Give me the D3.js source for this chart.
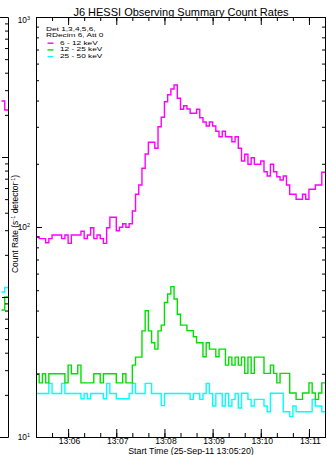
<!DOCTYPE html>
<html>
<head>
<meta charset="utf-8">
<script src="https://cdn.jsdelivr.net/npm/d3@7"></script>
<style>
  body { margin: 0; background: #fff; }
  text { font-family: "Liberation Sans", Arial, Helvetica, sans-serif; fill: #000; }
</style>
</head>
<body>
<svg id="chart" width="327" height="455"></svg>
<script>
// time range of the panel, 4 s bins
const startTime = "2011-09-25T13:05:20Z";
const endTime = "2011-09-25T13:11:20Z";
const binSeconds = 4;

// count rates (s^-1 detector^-1)
const rate6to12 = [89.9, 88.0, 88.0, 84.2, 88.0, 91.6, 91.6, 91.6, 88.0, 91.6,
  83.6, 91.6, 91.6, 91.6, 95.4, 88.0, 91.6, 99.2, 88.0, 91.6,
  88.0, 83.6, 99.2, 111.2, 111.2, 96.0, 99.7, 103.7, 99.7, 103.7,
  119.2, 143.1, 158.5, 190.3, 222.6, 253.2, 253.2, 237.0, 300.4, 333.0,
  395.1, 426.6, 454.1, 474.5, 410.1, 363.6, 378.2, 364.7, 347.9, 347.9,
  363.6, 331.5, 316.2, 302.7, 316.2, 302.7, 285.6, 269.2, 285.6, 269.2,
  269.2, 254.8, 269.2, 237.0, 206.2, 221.9, 198.9, 213.8, 198.9, 198.9,
  206.2, 183.4, 175.0, 198.9, 183.4, 173.6, 167.4, 175.0, 158.5, 143.1,
  143.1, 135.5, 135.5, 143.1, 135.5, 151.2, 151.2, 158.5, 158.5, 182.2];
const rate12to25 = [20.0, 18.1, 20.0, 18.1, 20.0, 20.0, 20.0, 20.0, 20.0, 18.1,
  22.0, 20.0, 20.0, 22.0, 18.1, 18.1, 18.1, 18.1, 20.0, 20.0,
  18.1, 20.0, 20.0, 20.0, 20.0, 18.1, 18.1, 20.0, 18.1, 18.1,
  22.0, 24.0, 24.0, 32.0, 39.9, 32.0, 28.1, 26.2, 32.0, 34.1,
  43.7, 48.0, 52.0, 45.4, 38.4, 34.1, 34.1, 32.1, 32.1, 30.0,
  28.1, 28.1, 24.1, 28.1, 26.2, 26.2, 24.1, 26.2, 26.2, 22.0,
  24.0, 22.0, 24.0, 22.0, 24.0, 20.1, 24.0, 20.1, 24.0, 24.0,
  24.0, 20.1, 20.1, 22.0, 20.1, 18.1, 20.1, 20.1, 20.1, 16.2,
  16.2, 15.1, 15.1, 16.2, 16.2, 18.1, 16.2, 15.1, 16.2, 18.1];
const rate25to50 = [16.1, 16.1, 16.1, 16.1, 18.0, 16.1, 16.1, 16.1, 18.0, 16.1,
  16.1, 16.1, 16.1, 16.1, 15.2, 16.1, 15.2, 16.1, 16.1, 16.1,
  16.1, 15.2, 18.0, 16.1, 16.1, 15.2, 15.2, 15.2, 15.2, 16.1,
  18.0, 16.1, 16.1, 16.1, 18.0, 18.0, 16.1, 16.1, 16.1, 14.1,
  16.1, 16.1, 16.1, 16.1, 16.1, 16.1, 16.1, 16.1, 15.1, 16.1,
  16.1, 15.1, 16.1, 18.0, 16.1, 14.05, 16.1, 16.1, 14.05, 16.1,
  14.05, 15.1, 16.1, 13.75, 16.15, 16.15, 15.1, 14.05, 15.1, 15.1,
  15.1, 14.05, 13.2, 16.15, 16.15, 16.15, 16.15, 13.2, 13.2, 12.5,
  14.05, 13.2, 13.2, 13.2, 13.2, 13.2, 15.1, 14.05, 14.05, 13.2];

const bandLabels = ["6 - 12 keV", "12 - 25 keV", "25 - 50 keV"];
const bandColors = ["#ff00ff", "#00e000", "#00ffff"];
const legendLines = ["Det 1,3,4,5,6,", "RDecim 6, Att 0"];
const yTickValues = [10, 100, 1000];
const yTickExponents = ["1", "2", "3"];
const xTickLabels = ["13:06", "13:07", "13:08", "13:09", "13:10", "13:11"];

// right edge of the neighbouring panel, which is cut off at the left
const prevRate6to12 = [2512, 2168];
const prevRate12to25 = [80.8, 100];
const prevRate25to50 = [108.6, 117];

const svg = d3.select("#chart");

const x = d3.scaleUtc()
  .domain([new Date(startTime), new Date(endTime)])
  .range([36, 325]);
const y = d3.scaleLog().domain([10, 1000]).range([437, 17]);

function binned(values) {
  const t0 = new Date(startTime).getTime();
  const pts = values.map((v, i) => ({ t: new Date(t0 + i * binSeconds * 1000), v: v }));
  pts.push({ t: new Date(t0 + values.length * binSeconds * 1000), v: values[values.length - 1] });
  return pts;
}

const line = d3.line()
  .x(d => x(d.t))
  .y(d => y(d.v))
  .curve(d3.curveStepAfter);

// data lines
const plot = svg.append("g");
[rate25to50, rate12to25, rate6to12].forEach((vals, k) => {
  plot.append("path")
    .attr("d", line(binned(vals)))
    .attr("fill", "none")
    .attr("stroke", bandColors[2 - k])
    .attr("stroke-width", 1.4);
});

// frame
svg.append("rect")
  .attr("x", x.range()[0] + 0.5).attr("y", y.range()[1] + 0.5)
  .attr("width", x.range()[1] - x.range()[0])
  .attr("height", y.range()[0] - y.range()[1])
  .attr("fill", "none").attr("stroke", "#000").attr("stroke-width", 1);

function ticksOnly(g) {
  g.select(".domain").remove();
  g.selectAll("text").remove();
}

// y ticks, inside on both sides
const yMinor = y.ticks();
svg.append("g").attr("transform", `translate(${x.range()[0]},0)`)
  .call(d3.axisRight(y).tickValues(yMinor).tickSize(3).tickSizeOuter(0)).call(ticksOnly);
svg.append("g").attr("transform", `translate(${x.range()[0]},0)`)
  .call(d3.axisRight(y).tickValues(yTickValues).tickSize(6).tickSizeOuter(0)).call(ticksOnly);
svg.append("g").attr("transform", `translate(${x.range()[1]},0)`)
  .call(d3.axisLeft(y).tickValues(yMinor).tickSize(3).tickSizeOuter(0)).call(ticksOnly);
svg.append("g").attr("transform", `translate(${x.range()[1]},0)`)
  .call(d3.axisLeft(y).tickValues(yTickValues).tickSize(6).tickSizeOuter(0)).call(ticksOnly);

// x ticks, inside top and bottom
const xMajor = xTickLabels.map(s => new Date(`2011-09-25T${s}:00Z`));
const xMinor = d3.utcSecond.every(20).range(new Date(startTime), new Date(endTime));
svg.append("g").attr("transform", `translate(0,${y.range()[0]})`)
  .call(d3.axisTop(x).tickValues(xMinor).tickSize(4).tickSizeOuter(0)).call(ticksOnly);
svg.append("g").attr("transform", `translate(0,${y.range()[0]})`)
  .call(d3.axisTop(x).tickValues(xMajor).tickSize(8).tickSizeOuter(0)).call(ticksOnly);
svg.append("g").attr("transform", `translate(0,${y.range()[1]})`)
  .call(d3.axisBottom(x).tickValues(xMinor).tickSize(4).tickSizeOuter(0)).call(ticksOnly);
svg.append("g").attr("transform", `translate(0,${y.range()[1]})`)
  .call(d3.axisBottom(x).tickValues(xMajor).tickSize(8).tickSizeOuter(0)).call(ticksOnly);

// x tick labels
svg.append("g").selectAll("text").data(xMajor).join("text")
  .attr("x", d => x(d) + 1.5).attr("y", 444.3)
  .attr("text-anchor", "middle").attr("font-size", 8.6)
  .text((d, i) => xTickLabels[i]);

// y tick labels: 10^n
const yl = svg.append("g").selectAll("text").data(yTickValues).join("text")
  .attr("x", 30).attr("y", (d, i) => Math.max(y(d) + 3, 23))
  .attr("text-anchor", "end").attr("font-size", 8.3);
yl.append("tspan").text("10");
yl.append("tspan").attr("font-size", 5.5).attr("dy", -3.5).text((d, i) => yTickExponents[i]);

// title and axis titles
svg.append("text").attr("x", 181).attr("y", 15.5).attr("text-anchor", "middle")
  .attr("font-size", 11).text("J6 HESSI Observing Summary Count Rates");
svg.append("text").attr("x", 191).attr("y", 454.2).attr("text-anchor", "middle")
  .attr("font-size", 8.8).text("Start Time (25-Sep-11 13:05:20)");
const yt = svg.append("text").attr("transform", "translate(18,224) rotate(-90)")
  .attr("text-anchor", "middle").attr("font-size", 8.5);
yt.append("tspan").text("Count Rate (s");
yt.append("tspan").attr("font-size", 5.5).attr("dy", -3.5).text("-1");
yt.append("tspan").attr("dy", 3.5).text(" detector");
yt.append("tspan").attr("font-size", 5.5).attr("dy", -3.5).text("-1");
yt.append("tspan").attr("dy", 3.5).text(")");

// legend (wide, short glyphs like the original)
const lg = svg.append("g");
const legendBase = [30.7, 36.7];
legendLines.forEach((s, i) => {
  lg.append("text").attr("transform", `translate(46,${legendBase[i]}) scale(1.38,1)`)
    .attr("font-size", 6).text(s);
});
bandLabels.forEach((s, i) => {
  const yy = 44.6 + i * 6.7;
  lg.append("line").attr("x1", 47.5).attr("x2", 53.5).attr("y1", yy - 1.4).attr("y2", yy - 1.4)
    .attr("stroke", bandColors[i]).attr("stroke-width", 1.4);
  lg.append("text").attr("transform", `translate(60,${yy}) scale(1.38,1)`)
    .attr("font-size", 6).text(s);
});

// neighbouring panel edge
const prevX = d3.scaleLinear().domain([0, 2]).range([1.5, 8]);
const prevY = d3.scaleLog().domain([10, 10000]).range([437, 17]);
const prevLine = d3.line().x((d, i) => prevX(i)).y(d => prevY(d)).curve(d3.curveStepAfter);
[prevRate25to50, prevRate12to25, prevRate6to12].forEach((vals, k) => {
  svg.append("path").attr("d", prevLine(vals.concat([vals[vals.length - 1]])))
    .attr("fill", "none").attr("stroke", bandColors[2 - k]).attr("stroke-width", 1.4);
});
svg.append("path")
  .attr("d", `M0,${prevY.range()[1] + 0.5}H${prevX.range()[1] + 0.5}V${prevY.range()[0] + 0.5}H0`)
  .attr("fill", "none").attr("stroke", "#000");
svg.append("g").attr("transform", `translate(${prevX.range()[1]},0)`)
  .call(d3.axisLeft(prevY).tickValues(prevY.ticks()).tickSize(3).tickSizeOuter(0)).call(ticksOnly);
svg.append("g").attr("transform", `translate(${prevX.range()[1]},0)`)
  .call(d3.axisLeft(prevY).tickValues([10, 100, 1000, 10000]).tickSize(6).tickSizeOuter(0)).call(ticksOnly);
</script>
</body>
</html>
